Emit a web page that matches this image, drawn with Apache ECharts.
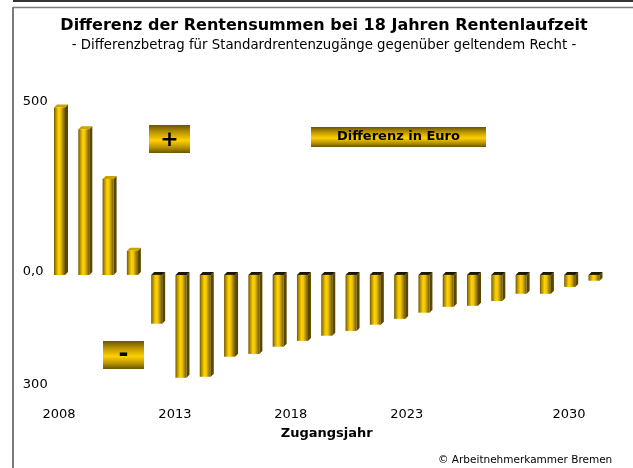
<!DOCTYPE html>
<html>
<head>
<meta charset="utf-8">
<script src="https://cdn.jsdelivr.net/npm/echarts@6/dist/echarts.min.js"></script>
<style>
  html, body { margin: 0; padding: 0; background: #fff; }
  #chart { width: 633px; height: 468px; }
</style>
</head>
<body>
<div id="chart"></div>
<script>
// Zugangsjahre 2008 - 2030
var years = ["2008", "2009", "2010", "2011", "2012", "2013", "2014", "2015",
  "2016", "2017", "2018", "2019", "2020", "2021", "2022", "2023", "2024",
  "2025", "2026", "2027", "2028", "2029", "2030"];
// Differenz in Euro
var diffValues = [487, 424, 279, 70, -142, -299, -296, -238, -230, -209, -192,
  -177, -163, -145, -128, -110, -93, -90, -76, -55, -55, -35, -17];
// beschriftete Jahre auf der x-Achse
var yearTicks = [2008, 2013, 2018, 2023, 2030];
// y-Achse
var yTicks = [500, 0, -300];
var yTickLabels = ["500", "0,0", "300"];

var font = "DejaVu Sans";

// Gold-Verlauf fuer die Saeulen (von links nach rechts)
var barFront = new echarts.graphic.LinearGradient(0, 0, 1, 0, [
  { offset: 0, color: "#6e5800" },
  { offset: 0.18, color: "#b89400" },
  { offset: 0.42, color: "#ffd400" },
  { offset: 0.6, color: "#f0c400" },
  { offset: 0.85, color: "#9c7e00" },
  { offset: 1, color: "#6e5900" }
]);
// Verlauf fuer die Kaesten (oben/unten dunkel)
function boxFill() {
  return new echarts.graphic.LinearGradient(0, 0, 0, 1, [
    { offset: 0, color: "#6a5400" },
    { offset: 0.25, color: "#b89300" },
    { offset: 0.55, color: "#ffd000" },
    { offset: 0.8, color: "#b89300" },
    { offset: 1, color: "#6a5400" }
  ]);
}

// 3D-Saeule: Vorderseite, Seite, Deckel
function renderBar(params, api) {
  var base = api.coord([api.value(0), 0]);
  var end = api.coord([api.value(0), api.value(1)]);
  var w = 11, d = 3;
  var x0 = base[0] - w / 2, x1 = x0 + w;
  var top = Math.min(base[1], end[1]);
  var bot = Math.max(base[1], end[1]);
  var pos = api.value(1) >= 0;
  return {
    type: "group",
    children: [
      {
        type: "polygon",
        shape: { points: [[x1, top], [x1 + d, top - d], [x1 + d, bot - d], [x1, bot]] },
        style: { fill: "#5a4800" }
      },
      {
        type: "polygon",
        shape: { points: [[x0, top], [x0 + d, top - d], [x1 + d, top - d], [x1, top]] },
        style: { fill: pos ? "#c9a300" : "#1c1800" }
      },
      {
        type: "rect",
        shape: { x: x0, y: top, width: w, height: bot - top },
        style: { fill: barFront }
      }
    ]
  };
}

var chart = echarts.init(document.getElementById("chart"));
chart.setOption({
  backgroundColor: "#fff",
  animation: false,
  title: {
    text: "Differenz der Rentensummen bei 18 Jahren Rentenlaufzeit",
    subtext: "- Differenzbetrag für Standardrentenzugänge gegenüber geltendem Recht -",
    left: 324,
    top: 18,
    padding: 0,
    textAlign: "center",
    itemGap: 5,
    textStyle: { fontFamily: font, fontSize: 16, fontWeight: "bold", color: "#000" },
    subtextStyle: { fontFamily: font, fontSize: 13.3, color: "#000" }
  },
  grid: { left: 47.35, right: 26.85, top: 103, bottom: 90 },
  xAxis: [
    {
      type: "category",
      data: years,
      show: false
    },
    {
      type: "value",
      min: 2007.497,
      max: 2031.604,
      position: "bottom",
      name: "Zugangsjahr",
      nameLocation: "middle",
      nameGap: 49,
      nameTextStyle: { fontFamily: font, fontSize: 13, fontWeight: "bold", color: "#000" },
      axisLine: { show: false },
      axisTick: { show: false },
      splitLine: { show: false },
      axisLabel: {
        customValues: yearTicks,
        margin: 30,
        fontFamily: font,
        fontSize: 13,
        color: "#000",
        formatter: function (v) { return String(v); }
      }
    }
  ],
  yAxis: {
    type: "value",
    min: -300,
    max: 500,
    axisLine: { show: false },
    axisTick: { show: false },
    splitLine: { show: false },
    axisLabel: {
      customValues: yTicks,
      align: "left",
      margin: 24.5,
      fontFamily: font,
      fontSize: 13,
      color: "#000",
      formatter: function (v) {
        var i = yTicks.indexOf(v);
        var key = v > 0 ? "a" : (v === 0 ? "z" : "n");
        return "{" + key + "|" + yTickLabels[i] + "}";
      },
      rich: {
        a: { fontFamily: font, fontSize: 13, color: "#000", padding: [0, 0, 2, 0] },
        z: { fontFamily: font, fontSize: 13, color: "#000", padding: [0, 0, 6, 0] },
        n: { fontFamily: font, fontSize: 13, color: "#000", padding: [14, 0, 0, 0] }
      }
    }
  },
  series: [
    {
      type: "custom",
      renderItem: renderBar,
      xAxisIndex: 0,
      yAxisIndex: 0,
      encode: { x: 0, y: 1 },
      data: diffValues.map(function (v, i) { return [i, v]; })
    }
  ],
  graphic: [
    // Rahmen
    { type: "line", shape: { x1: 13, y1: 1, x2: 633, y2: 1 }, style: { stroke: "#333", lineWidth: 2 } },
    { type: "line", shape: { x1: 13, y1: 7.5, x2: 633, y2: 7.5 }, style: { stroke: "#7a7a7a", lineWidth: 1.5 } },
    { type: "line", shape: { x1: 13, y1: 7, x2: 13, y2: 468 }, style: { stroke: "#7a7a7a", lineWidth: 2 } },
    // Kaesten
    { type: "rect", shape: { x: 149, y: 125, width: 41, height: 28 }, style: { fill: boxFill() } },
    {
      type: "text", x: 169.5, y: 140,
      style: { text: "+", fontFamily: font, fontSize: 22, fontWeight: "bold", fill: "#000", align: "center", verticalAlign: "middle" }
    },
    { type: "rect", shape: { x: 103, y: 341, width: 41, height: 28 }, style: { fill: boxFill() } },
    {
      type: "text", x: 123.5, y: 355,
      style: { text: "-", fontFamily: font, fontSize: 24, fontWeight: "bold", fill: "#000", align: "center", verticalAlign: "middle" }
    },
    { type: "rect", shape: { x: 311, y: 127, width: 175, height: 20 }, style: { fill: boxFill() } },
    {
      type: "text", x: 398.5, y: 137,
      style: { text: "Differenz in Euro", fontFamily: font, fontSize: 13, fontWeight: "bold", fill: "#000", align: "center", verticalAlign: "middle" }
    },
    {
      type: "text", x: 438, y: 460,
      style: { text: "© Arbeitnehmerkammer Bremen", fontFamily: font, fontSize: 10.5, fill: "#000", align: "left", verticalAlign: "middle" }
    }
  ]
});
</script>
</body>
</html>
